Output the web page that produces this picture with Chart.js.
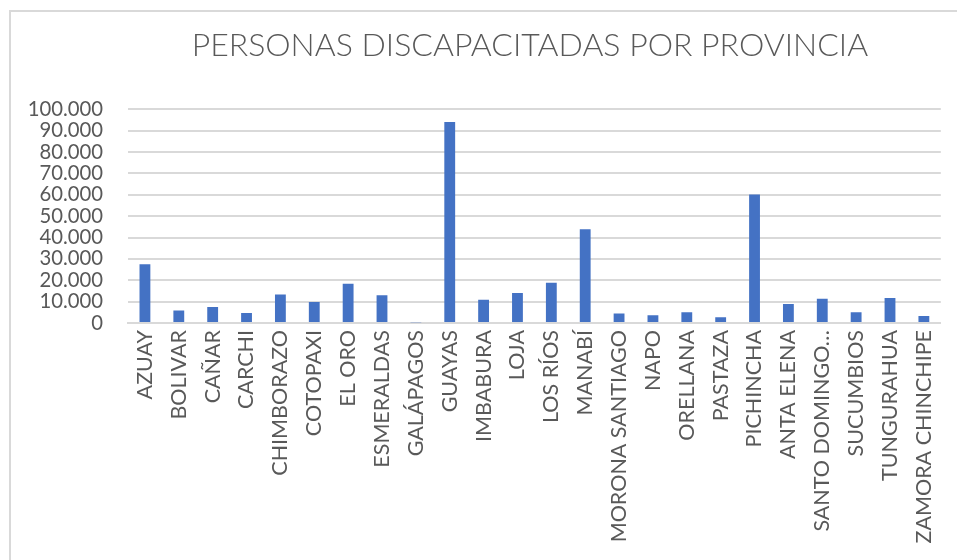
<!DOCTYPE html>
<html>
<head>
<meta charset="utf-8">
<script src="https://cdn.jsdelivr.net/npm/chart.js@4"></script>
<style>
html,body{margin:0;padding:0;background:#fff;overflow:hidden}
#frame{position:absolute;left:9px;top:10px;width:1000px;height:600px;border:2px solid #d9d9d9;box-sizing:border-box}
#chart{position:absolute;left:0;top:0}
</style>
</head>
<body>
<div id="frame"></div>
<canvas id="chart" width="957" height="560"></canvas>
<script>

const provincias = [
"AZUAY","BOLIVAR","CAÑAR","CARCHI","CHIMBORAZO","COTOPAXI","EL ORO","ESMERALDAS",
"GALÁPAGOS","GUAYAS","IMBABURA","LOJA","LOS RÍOS","MANABÍ","MORONA SANTIAGO","NAPO",
"ORELLANA","PASTAZA","PICHINCHA","ANTA ELENA","SANTO DOMINGO…","SUCUMBIOS","TUNGURAHUA","ZAMORA CHINCHIPE"
]

const personas = [
27500,5900,7500,4700,13400,9800,18400,13000,
300,94100,10900,14100,18800,43900,4500,3600,
5000,2700,60200,8900,11400,5000,11700,3300
]

const yTicks = [0,10000,20000,30000,40000,50000,60000,70000,80000,90000,100000]

const gris="#595959"

function miles(v){
return v.toString().replace(/\B(?=(\d{3})+(?!\d))/g,".")
}

// centre the title a bit right of the canvas middle, over the bars
const tituloCentrado={
id:"tituloCentrado",
beforeDraw(chart){
const t=chart.titleBlock
if(t){t.left=119;t.right=chart.chartArea.right}
}
}

new Chart(document.getElementById("chart"),{

type:"bar",

data:{
labels:provincias,
datasets:[{
data:personas,
backgroundColor:"#4472c4",
barPercentage:0.32,
categoryPercentage:1
}]
},

options:{
responsive:false,
animation:false,
layout:{padding:{left:10,right:16,top:0,bottom:0}},
plugins:{
legend:{display:false},
tooltip:{enabled:false},
title:{
display:true,
text:"PERSONAS DISCAPACITADAS POR PROVINCIA",
color:gris,
font:{family:"Lato",size:32,weight:"300"},
padding:{top:26,bottom:45}
}
},
scales:{
x:{
grid:{display:false,drawTicks:false},
border:{color:"#d9d9d9",width:2},
ticks:{
color:gris,
font:{family:"Lato",size:21.5},
minRotation:90,
maxRotation:90,
autoSkip:false,
padding:7
},
afterFit:s=>{s.height=237}
},
y:{
min:0,
max:100000,
afterBuildTicks:s=>{s.ticks=yTicks.map(v=>({value:v}))},
grid:{color:"#d9d9d9",lineWidth:2,drawTicks:false},
border:{display:false},
ticks:{
color:gris,
font:{family:"Lato",size:20.3},
autoSkip:false,
padding:25,
callback:v=>miles(v)
},
afterFit:s=>{s.width=118}
}
}
},

plugins:[tituloCentrado]

})

</script>
</body>
</html>
